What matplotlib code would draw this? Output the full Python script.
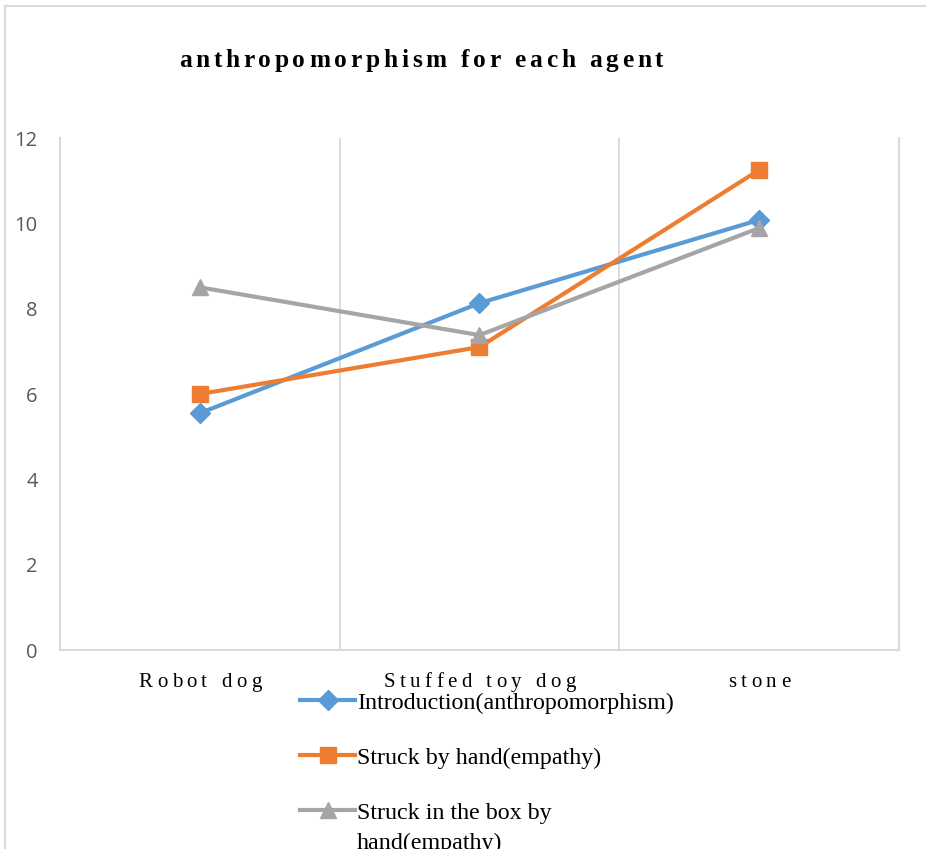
import matplotlib
matplotlib.use("Agg")
import matplotlib.pyplot as plt
from matplotlib.lines import Line2D

agents = ["Robot dog", "Stuffed toy dog", "stone"]
introduction = [5.55, 8.13, 10.08]
struck_hand = [6.0, 7.1, 11.25]
struck_box = [8.5, 7.38, 9.89]
series_names = ["Introduction(anthropomorphism)", "Struck by hand(empathy)", "Struck in the box by"]
title_text = "anthropomorphism for each agent"

W, H = 926, 849
fig = plt.figure(figsize=(W / 100, H / 100), dpi=100)
ax = fig.add_axes([60 / W, 1 - 650 / H, 839 / W, 512 / H])

grid_col = "#d9d9d9"
x = range(len(agents))
ax.plot(x, introduction, color="#5b9bd5", lw=3, marker="D", ms=10, label=series_names[0])
ax.plot(x, struck_hand, color="#ed7d31", lw=3, marker="s", ms=11.5, label=series_names[1])
ax.plot(x, struck_box, color="#a5a5a5", lw=3, marker="^", ms=12, label=series_names[2])

ax.set_xlim(-0.5, len(agents) - 0.5)
ax.set_ylim(0, 12)
ax.set_yticks(range(0, 13, 2))
ax.set_xticks([])
for b in [i + 0.5 for i in range(len(agents) - 1)]:
    ax.axvline(b, color=grid_col, lw=1.3, zorder=0)
for s in ["left", "right", "bottom"]:
    ax.spines[s].set_color(grid_col)
    ax.spines[s].set_linewidth(1.5)
ax.spines["top"].set_visible(False)
ax.tick_params(axis="y", length=0, pad=16, labelsize=14.5, labelcolor="#595959")
for lab in ax.get_yticklabels():
    lab.set_fontfamily("Open Sans")

# outer frame lines
fig.add_artist(Line2D([5 / W, 5 / W], [0, 1 - 6 / H], color=grid_col, lw=1.5))
fig.add_artist(Line2D([5 / W, 1], [1 - 6 / H, 1 - 6 / H], color=grid_col, lw=1.5))

renderer = fig.canvas.get_renderer()


def text_width(s, **kw):
    t = fig.text(0, 0, s, **kw)
    w = t.get_window_extent(renderer).width
    t.remove()
    return w


def spaced_text(cx, y, s, spacing, **kw):
    # draw s centred on pixel x cx, with extra spacing between letters
    ref = text_width("x", **kw)
    offs = [text_width(s[:i] + "x", **kw) - ref + i * spacing for i in range(len(s))]
    total = text_width(s, **kw) + (len(s) - 1) * spacing
    x0 = cx - total / 2
    for ch, o in zip(s, offs):
        if ch != " ":
            fig.text((x0 + o) / W, y, ch, ha="left", va="baseline", **kw)


serif = dict(family="Liberation Serif", color="#000000")
spaced_text(421, 1 - 67 / H, title_text, 3.8, fontsize=18.3, weight="bold", **serif)

for i, name in enumerate(agents):
    px = ax.transData.transform((i, 0))[0]
    spaced_text(px, 1 - 687 / H, name, 4.4, fontsize=15, **serif)

leg = fig.legend(loc="upper left", bbox_to_anchor=(300 / W, 1 - 692 / H), frameon=False,
                 prop={"family": "Liberation Serif", "size": 17.3}, handlelength=2.3,
                 handletextpad=0.08, labelspacing=1.38, borderpad=0, borderaxespad=0)
fig.canvas.draw()
last = leg.get_texts()[-1].get_window_extent(renderer)
fig.text(last.x0 / W, (last.y0 - 30) / H, "hand(empathy)", ha="left", va="bottom",
         fontsize=17.3, **serif)

fig.savefig("out.png", dpi=100)
